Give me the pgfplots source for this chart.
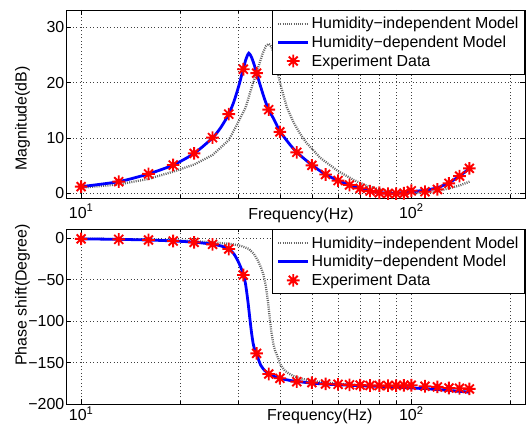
\documentclass[border=0pt]{standalone}
\usepackage{fontspec}
\setmainfont{Liberation Sans}
\usepackage{pgfplots}
\pgfplotsset{compat=1.18}

\pgfdeclareplotmark{mstar}{%
  \pgfpathmoveto{\pgfqpoint{-\pgfplotmarksize}{0pt}}\pgfpathlineto{\pgfqpoint{\pgfplotmarksize}{0pt}}%
  \pgfpathmoveto{\pgfqpoint{0pt}{-\pgfplotmarksize}}\pgfpathlineto{\pgfqpoint{0pt}{\pgfplotmarksize}}%
  \pgfpathmoveto{\pgfqpoint{-0.7071\pgfplotmarksize}{-0.7071\pgfplotmarksize}}\pgfpathlineto{\pgfqpoint{0.7071\pgfplotmarksize}{0.7071\pgfplotmarksize}}%
  \pgfpathmoveto{\pgfqpoint{-0.7071\pgfplotmarksize}{0.7071\pgfplotmarksize}}\pgfpathlineto{\pgfqpoint{0.7071\pgfplotmarksize}{-0.7071\pgfplotmarksize}}%
  \pgfusepathqstroke}

\pgfplotstableread{
f m
10 1.2
13 2.1
16 3.5
19 5.1
22 7.2
25 10.05
28 14.3
31 22.4
34 21.7
37 15.1
40 11.1
45 7.4
50 5.05
55 3.4
60 2.3
65 1.5
70 0.9
75 0.4
80 0.1
85 -0.05
90 -0.05
95 0.0
100 0.45
110 0.3
120 0.7
130 1.8
140 3.1
150 4.5
}\magdata

\pgfplotstableread{
f m
10 1.2
13 2.1
16 3.5
19 5.1
22 7.2
25 10.0
26.5 11.9
28 14.3
29 16.5
30 19.3
31 22.5
31.6 24.3
32.2 25.3
32.8 24.6
33.4 23.3
34 21.7
35 19.2
36 16.9
37 15.1
38.5 13.2
40 11.2
42.5 9.1
45 7.4
50 5.1
55 3.4
60 2.3
65 1.5
70 0.9
75 0.45
80 0.15
85 0.0
90 0.0
95 0.1
100 0.3
110 0.55
120 1.0
130 1.9
140 3.1
150 4.5
}\magdep

\pgfplotstableread{
f m
10 1.0
13 1.6
16 2.6
19 3.9
22 5.2
25 6.9
28 9.6
30 13.0
31.5 15.5
33 19.5
34.5 23.0
35.5 25.3
36.3 26.6
37.0 27.0
37.7 26.5
38.5 24.8
39.3 22.0
40.5 18.8
42 15.5
44 12.8
46 10.8
48 9.2
53 6.4
60 4.0
67 2.4
73 1.4
80 0.7
90 0.2
100 0.0
110 0.1
120 0.4
130 0.9
140 1.4
150 2.1
}\magind

\pgfplotstableread{
f p
10 -1.0
13 -1.6
16 -2.4
19 -3.6
22 -5.2
25 -7.6
28 -13.2
31 -44.5
34 -138.7
37 -163.5
40 -168.7
45 -172.8
50 -174.0
55 -175.5
60 -176.0
65 -176.6
70 -177.0
75 -177.4
80 -177.5
85 -177.5
90 -177.5
95 -177.2
100 -177.1
110 -178.3
120 -179.1
130 -180.4
140 -180.7
150 -181.5
}\phdata

\pgfplotstableread{
f p
10 -1.0
13 -1.6
16 -2.4
19 -3.5
22 -5.0
25 -7.4
26.5 -9.5
28 -13
29 -19
29.8 -27
30.5 -36
31 -44
31.5 -56
32 -76
32.4 -95
32.8 -113
33.2 -127
33.6 -135
34 -140
35 -153
36 -159.5
37 -163
38.5 -166.5
40 -168.7
42.5 -171
45 -172.5
50 -174.5
55 -175.7
60 -176.5
70 -177.6
80 -178.5
90 -179.4
100 -180.3
110 -181.2
120 -182.2
130 -183.3
140 -184.4
150 -185.5
}\phdep

\pgfplotstableread{
f p
10 -0.8
13 -1.2
16 -1.9
19 -2.7
22 -3.8
25 -5.2
28.75 -7.4
30.5 -9.5
32.2 -13
33.35 -19
34.3 -27
35.1 -36
35.65 -44
36.2 -56
36.8 -76
37.25 -95
37.7 -113
38.2 -127
38.65 -135
39.1 -140
40.25 -153
41.4 -159.5
42.55 -163
44.3 -166.5
46 -168.7
48.9 -171
51.75 -172.5
57.5 -174.5
60 -175.2
70 -177
80 -178.2
90 -179.2
100 -180.1
120 -182
150 -185.3
}\phind

\pgfplotsset{
  legend image code/.code={\draw[mark repeat=2, mark phase=2, #1] plot coordinates {(0bp,0bp) (15bp,0bp) (30bp,0bp)};},
  indep/.style={black!60, line width=2.3bp, dash pattern=on 1bp off 1.2bp},
  dep/.style={blue, line width=2.8bp},
  expd/.style={red, only marks, mark=mstar, mark size=6.3bp, line width=1.9bp},
}

\begin{document}
\begin{tikzpicture}[font=\fontsize{16}{19}\selectfont]
\useasboundingbox (0,0) rectangle (529bp,427bp);

\begin{axis}[
  scale only axis, width=459bp,
  xmode=log, xmin=9, xmax=221,
  xtick={10,100}, xticklabels={10\textsuperscript{1},10\textsuperscript{2}},
  minor xtick={20,30,40,50,60,70,80,90,200},
  grid=both,
  major grid style={black!75, line width=0.6bp, dash pattern=on 1bp off 2.4bp},
  minor grid style={black!75, line width=0.6bp, dash pattern=on 1bp off 2.4bp},
  tick align=inside,
  major tick length=5bp, minor tick length=3bp,
  every tick/.style={black, line width=0.6bp},
  axis line style={black, line width=0.9bp},
  tick label style={font=\fontsize{16}{19}\selectfont},
  yticklabel style={inner sep=1.5bp},
  label style={font=\fontsize{16}{19}\selectfont},
  legend style={at={(1,1)}, anchor=north east, draw=black, line width=0.9bp,
    font=\fontsize{16}{19}\selectfont, fill=white,
    inner xsep=4bp, inner ysep=5bp, row sep=1.5bp},
  legend cell align=left,
  clip=false,
  at={(66bp,229bp)}, anchor=south west, height=188bp,
  ymin=-0.85, ymax=33.1,
  ytick={0,10,20,30}, yticklabels={0,10,20,30},
  xticklabel style={inner sep=0bp, yshift=-6bp},
  xlabel={Frequency(Hz)},
  xlabel style={at={(axis description cs:0.512,-0.0904)}, anchor=center},
  ylabel={Magnitude(dB)},
  ylabel style={at={(axis description cs:-0.0948,0.423)}, anchor=center},
]
\addplot[indep] table[x=f,y=m] {\magind};
\addlegendentry{Humidity−independent Model}
\addplot[dep, smooth, tension=0.4] table[x=f,y=m] {\magdep};
\addlegendentry{Humidity−dependent Model}
\addplot[expd] table[x=f,y=m] {\magdata};
\addlegendentry{Experiment Data}
\end{axis}

\begin{axis}[
  scale only axis, width=459bp,
  xmode=log, xmin=9, xmax=221,
  xtick={10,100}, xticklabels={10\textsuperscript{1},10\textsuperscript{2}},
  minor xtick={20,30,40,50,60,70,80,90,200},
  grid=both,
  major grid style={black!75, line width=0.6bp, dash pattern=on 1bp off 2.4bp},
  minor grid style={black!75, line width=0.6bp, dash pattern=on 1bp off 2.4bp},
  tick align=inside,
  major tick length=5bp, minor tick length=3bp,
  every tick/.style={black, line width=0.6bp},
  axis line style={black, line width=0.9bp},
  tick label style={font=\fontsize{16}{19}\selectfont},
  yticklabel style={inner sep=1.5bp},
  label style={font=\fontsize{16}{19}\selectfont},
  legend style={at={(1,1)}, anchor=north east, draw=black, line width=0.9bp,
    font=\fontsize{16}{19}\selectfont, fill=white,
    inner xsep=4bp, inner ysep=5bp, row sep=1.5bp},
  legend cell align=left,
  clip=false,
  at={(66bp,22.7bp)}, anchor=south west, height=175bp,
  ymin=-200, ymax=10.5,
  ytick={-200,-150,-100,-50,0}, yticklabels={−200,−150,−100,−50,0},
  xticklabel style={inner sep=0bp, yshift=-2bp},
  xlabel={Frequency(Hz)},
  xlabel style={at={(axis description cs:0.553,-0.0709)}, anchor=center},
  ylabel={Phase shift(Degree)},
  ylabel style={at={(axis description cs:-0.0948,0.625)}, anchor=center},
]
\addplot[indep] table[x=f,y=p] {\phind};
\addlegendentry{Humidity−independent Model}
\addplot[dep, smooth, tension=0.4] table[x=f,y=p] {\phdep};
\addlegendentry{Humidity−dependent Model}
\addplot[expd] table[x=f,y=p] {\phdata};
\addlegendentry{Experiment Data}
\end{axis}
\end{tikzpicture}
\end{document}
